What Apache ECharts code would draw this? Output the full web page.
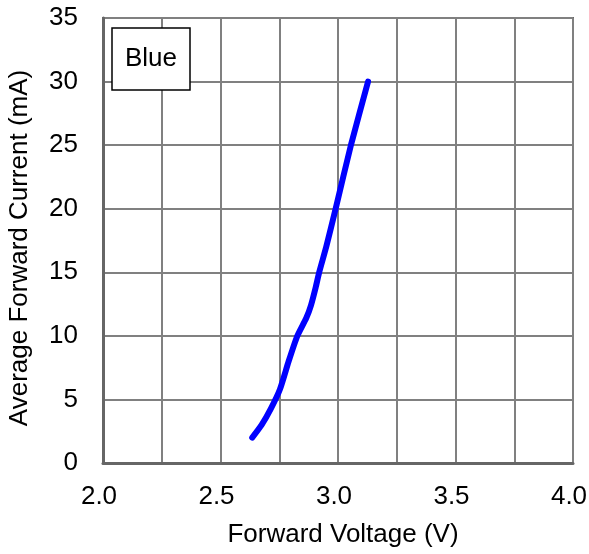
<!DOCTYPE html>
<html>
<head>
<meta charset="utf-8">
<script src="https://cdn.jsdelivr.net/npm/echarts@6/dist/echarts.min.js"></script>
<style>html,body{margin:0;padding:0;background:#fff}#c{width:589px;height:554px}</style>
</head>
<body>
<div id="c"></div>
<script>
const voltage = [2.635, 2.675, 2.715, 2.753, 2.79, 2.827, 2.865, 2.885, 2.905, 2.92, 2.95, 2.99, 3.055, 3.128];
const current = [2.0, 3.0, 4.3, 5.8, 8.0, 10.0, 11.4, 12.4, 13.8, 15.0, 17.0, 20.0, 25.0, 30.0];
const seriesName = 'Blue';
const xTitle = 'Forward Voltage (V)';
const yTitle = 'Average Forward Current (mA)';

const font = "'Liberation Sans', Arial, sans-serif";
const chart = echarts.init(document.getElementById('c'), null, {renderer: 'canvas'});
chart.setOption({
  animation: false,
  backgroundColor: '#fff',
  title: {
    text: seriesName,
    left: 112, top: 28,
    padding: [18, 13],
    borderColor: '#000', borderWidth: 1.5,
    backgroundColor: '#fff',
    textStyle: {fontSize: 26, fontWeight: 'normal', color: '#000', fontFamily: font}
  },
  grid: {left: 103, top: 18, right: 16, bottom: 91, containLabel: false, outerBoundsMode: 'none',
         show: true, borderColor: '#666', borderWidth: 2},
  xAxis: {
    type: 'value', min: 2, max: 4, interval: 0.25,
    name: xTitle, nameLocation: 'middle', nameGap: 59,
    nameTextStyle: {fontSize: 26, color: '#000', fontFamily: font, padding: [0, 0, 0, 10]},
    axisLine: {show: true, lineStyle: {color: '#666', width: 3}},
    axisTick: {show: false},
    axisLabel: {
      fontSize: 26, color: '#000', fontFamily: font, margin: 21, hideOverlap: false,
      padding: [0, 8, 0, 0],
      formatter: v => (Math.abs(Math.round(v * 2) - v * 2) < 1e-6) ? v.toFixed(1) : ''
    },
    splitLine: {show: true, lineStyle: {color: '#808080', width: 2}}
  },
  yAxis: {
    type: 'value', min: 0, max: 35, interval: 5,
    name: yTitle, nameLocation: 'middle', nameGap: 70,
    nameTextStyle: {fontSize: 26, color: '#000', fontFamily: font, padding: [0, 15, 0, 0]},
    axisLine: {show: true, lineStyle: {color: '#666', width: 3}},
    axisTick: {show: false},
    axisLabel: {fontSize: 26, color: '#000', fontFamily: font, margin: 25},
    splitLine: {show: true, lineStyle: {color: '#808080', width: 2}}
  },
  series: [{
    name: seriesName, type: 'line', smooth: 0.2, showSymbol: false,
    data: voltage.map((v, i) => [v, current[i]]),
    lineStyle: {color: '#0000ff', width: 6, cap: 'round', join: 'round'},
    z: 5
  }]
});
</script>
</body>
</html>
